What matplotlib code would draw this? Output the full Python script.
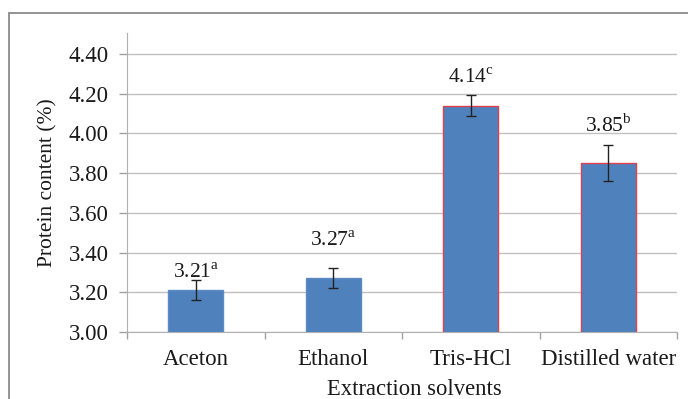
import numpy as np
import matplotlib.pyplot as plt
from matplotlib.patches import Rectangle

plt.rcParams['font.family'] = ['Liberation Serif', 'DejaVu Serif']
plt.rcParams['mathtext.fontset'] = 'custom'
plt.rcParams['mathtext.rm'] = 'Liberation Serif'

# data
solvents = ["Aceton", "Ethanol", "Tris-HCl", "Distilled water"]
protein = [3.21, 3.27, 4.14, 3.85]
sd = [0.05, 0.05, 0.053, 0.09]
letters = ["a", "a", "c", "b"]
yticks = [3.00, 3.20, 3.40, 3.60, 3.80, 4.00, 4.20, 4.40]

# style
edges = ["#5b8cc6", "#5b8cc6", "#e0404f", "#e0404f"]
lab_off = [2, 16.5, 8.5, 10]   # gap above error bar, points
txt = "#1a1a1a"

fig = plt.figure(figsize=(6.88, 3.99), dpi=100)
ax = fig.add_axes([127/688, 1-332/399, 550/688, 299/399])

# figure border (top + left visible)
fig.patches.append(Rectangle((9/688, -0.1), 1.2, 1-13/399+0.1, transform=fig.transFigure,
                             fill=False, edgecolor="#8a8a8a", linewidth=1.3))

x = np.arange(len(solvents))
ax.bar(x, protein, width=0.4, color="#4f81bd", edgecolor=edges, linewidth=1.0, zorder=3)
ax.errorbar(x, protein, yerr=sd, fmt="none", ecolor="#222222", elinewidth=1,
            capsize=3.5, capthick=1, zorder=4)

for xi, v, e, l, off in zip(x, protein, sd, letters, lab_off):
    ax.annotate("%.2f$^{\\mathrm{%s}}$" % (v, l), (xi, v + e), xytext=(0, off),
                textcoords="offset points", ha="center", va="baseline",
                fontsize=15.5, color=txt)

ax.set_ylim(3.0, 4.505)
ax.set_xlim(-0.5, 3.5)
ax.set_yticks(yticks)
ax.set_yticklabels(["%.2f" % t for t in yticks])
ax.yaxis.grid(True, color="#c0c0c0", linewidth=1.0, zorder=0)
ax.set_axisbelow(True)

ax.set_xticks(x)
ax.set_xticklabels(solvents)
ax.set_xticks(np.arange(-0.5, 4, 1), minor=True)
ax.tick_params(axis="x", which="major", length=0, pad=12, labelsize=16.5, colors=txt)
ax.tick_params(axis="x", which="minor", length=5, width=1, color="#a0a0a0")
ax.tick_params(axis="y", length=6, width=1, color="#a0a0a0", pad=7, labelsize=16.5,
               labelcolor=txt)

for s in ["top", "right"]:
    ax.spines[s].set_visible(False)
ax.spines["left"].set_color("#b0b0b0")
ax.spines["bottom"].set_color("#b0b0b0")

ax.set_ylabel("Protein content (%)", fontsize=15.5, color=txt)
ax.yaxis.set_label_coords(-0.127, 0.5)
ax.set_xlabel("Extraction solvents", fontsize=16.3, color=txt)
ax.xaxis.set_label_coords(0.522, -0.157)

fig.savefig("out.png", dpi=100)
